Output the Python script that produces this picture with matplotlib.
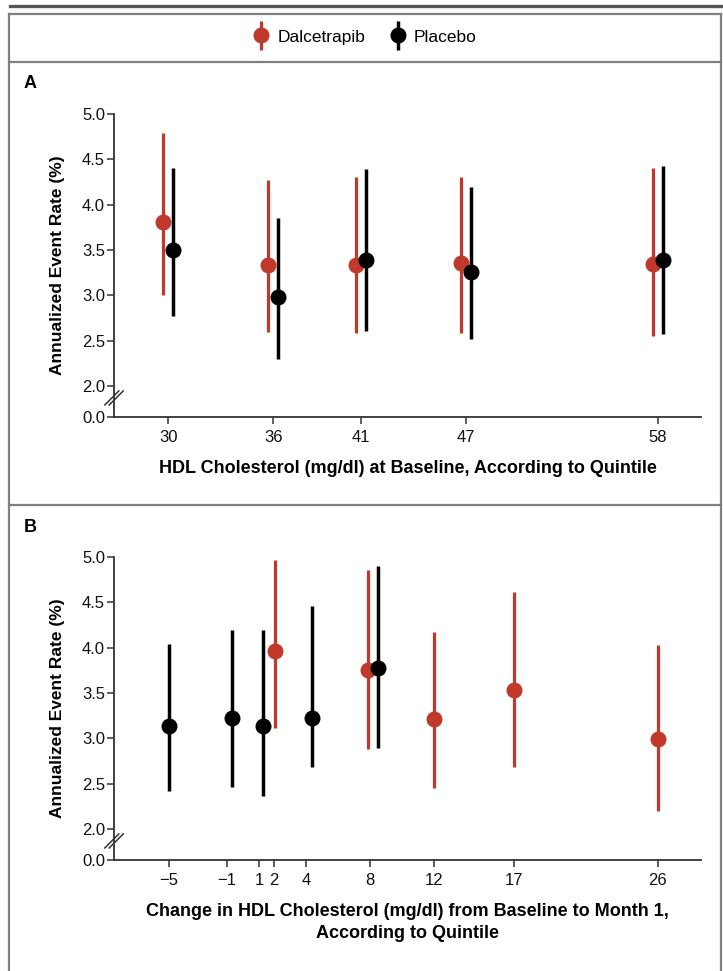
import matplotlib
matplotlib.use("Agg")
import matplotlib.pyplot as plt
from matplotlib.lines import Line2D
from matplotlib.transforms import ScaledTranslation
from matplotlib.legend_handler import HandlerErrorbar
from matplotlib.container import ErrorbarContainer
import numpy as np

# ---------------- data ----------------
# Panel A: HDL at baseline, by quintile
a_quintiles = [30, 36, 41, 47, 58]
a_tick_labels = ["30", "36", "41", "47", "58"]
a_dal_rate = [3.81, 3.34, 3.34, 3.36, 3.35]
a_dal_lo = [3.01, 2.60, 2.59, 2.59, 2.55]
a_dal_hi = [4.79, 4.27, 4.31, 4.31, 4.40]
a_pla_rate = [3.50, 2.98, 3.39, 3.26, 3.39]
a_pla_lo = [2.77, 2.30, 2.61, 2.52, 2.57]
a_pla_hi = [4.40, 3.85, 4.39, 4.19, 4.43]

# Panel B: change in HDL from baseline to month 1, by quintile
b_tick_pos = [-4.6, -0.95, 1.05, 2, 4, 8, 12, 17, 26]
b_tick_labels = ["\u22125", "\u22121", "1", "2", "4", "8", "12", "17", "26"]
b_dal_x = [2.05, 7.85, 12.0, 17.0, 26.0]
b_dal_rate = [3.96, 3.75, 3.21, 3.53, 2.99]
b_dal_lo = [3.12, 2.88, 2.45, 2.68, 2.20]
b_dal_hi = [4.97, 4.86, 4.17, 4.61, 4.03]
b_pla_x = [-4.6, -0.64, 1.3, 4.35, 8.48]
b_pla_rate = [3.14, 3.23, 3.14, 3.22, 3.78]
b_pla_lo = [2.42, 2.47, 2.36, 2.68, 2.90]
b_pla_hi = [4.04, 4.19, 4.20, 4.46, 4.90]

# y axis (broken: 0.0 then 2.0 .. 5.0)
y_break_bottom = 1.66
y_tick_pos = [y_break_bottom, 2.0, 2.5, 3.0, 3.5, 4.0, 4.5, 5.0]
y_tick_labels = ["0.0", "2.0", "2.5", "3.0", "3.5", "4.0", "4.5", "5.0"]

series_labels = ["Dalcetrapib", "Placebo"]
RED = "#C0392B"
BLACK = "#000000"
AXC = "#333333"

plt.rcParams['font.family'] = ['Liberation Sans', 'DejaVu Sans']

W, H = 723, 971
fig = plt.figure(figsize=(W / 100, H / 100), dpi=100)


def px_rect(x0, y0, x1, y1):
    return [x0 / W, 1 - y1 / H, (x1 - x0) / W, (y1 - y0) / H]


axA = fig.add_axes(px_rect(114, 114, 701, 417))
axB = fig.add_axes(px_rect(114, 557, 701, 860))


def style_axis(ax):
    for s in ["top", "right"]:
        ax.spines[s].set_visible(False)
    for s in ["left", "bottom"]:
        ax.spines[s].set_color(AXC)
        ax.spines[s].set_linewidth(1.3)
    ax.set_ylim(y_break_bottom, 5.0)
    ax.set_yticks(y_tick_pos)
    ax.set_yticklabels(y_tick_labels)
    ax.tick_params(axis="y", direction="out", length=5, width=1.1, color=AXC,
                   labelsize=12, pad=1.5, labelcolor="#111111")
    ax.tick_params(axis="x", direction="out", length=5, width=1.1, color=AXC,
                   labelsize=12, pad=4, labelcolor="#111111")
    ax.set_ylabel("Annualized Event Rate (%)", fontsize=12.5, fontweight="bold",
                  labelpad=12)
    # axis break marks
    pos = ax.get_position()
    aw, ah = pos.width * W, pos.height * H
    yb = (1.87 - y_break_bottom) / (5.0 - y_break_bottom)
    for dx in (-2.2, 2.2):
        xs = [(dx - 7) / aw, (dx + 7) / aw]
        ys = [yb - 7 / ah, yb + 7 / ah]
        ax.plot(xs, ys, transform=ax.transAxes, color=AXC, lw=1.1,
                clip_on=False, zorder=5)


def errs(rate, lo, hi):
    r = np.array(rate)
    return np.vstack([r - np.array(lo), np.array(hi) - r])


ms = 10.5
# ---------- Panel A ----------
style_axis(axA)
axA.set_xlim(26.9, 60.46)
axA.set_xticks(a_quintiles)
axA.set_xticklabels(a_tick_labels)
off_l = ScaledTranslation(-5 / 100, 0, fig.dpi_scale_trans)
off_r = ScaledTranslation(5 / 100, 0, fig.dpi_scale_trans)
ebr = axA.errorbar(a_quintiles, a_dal_rate, yerr=errs(a_dal_rate, a_dal_lo, a_dal_hi),
                   fmt="o", color=RED, ms=ms, elinewidth=2.3, capsize=0,
                   transform=axA.transData + off_l, clip_on=False, zorder=3)
ebk = axA.errorbar(a_quintiles, a_pla_rate, yerr=errs(a_pla_rate, a_pla_lo, a_pla_hi),
                   fmt="o", color=BLACK, ms=ms, elinewidth=2.5, capsize=0,
                   transform=axA.transData + off_r, clip_on=False, zorder=4)
axA.set_xlabel("HDL Cholesterol (mg/dl) at Baseline, According to Quintile",
               fontsize=13, fontweight="bold", labelpad=11)

# ---------- Panel B ----------
style_axis(axB)
axB.set_xlim(-8.02, 28.7)
axB.set_xticks(b_tick_pos)
axB.set_xticklabels(b_tick_labels)
axB.errorbar(b_dal_x, b_dal_rate, yerr=errs(b_dal_rate, b_dal_lo, b_dal_hi),
             fmt="o", color=RED, ms=ms, elinewidth=2.3, capsize=0, clip_on=False, zorder=3)
axB.errorbar(b_pla_x, b_pla_rate, yerr=errs(b_pla_rate, b_pla_lo, b_pla_hi),
             fmt="o", color=BLACK, ms=ms, elinewidth=2.5, capsize=0, clip_on=False, zorder=4)
axB.set_xlabel("Change in HDL Cholesterol (mg/dl) from Baseline to Month 1,\nAccording to Quintile",
               fontsize=13, fontweight="bold", labelpad=11, linespacing=1.4)

# panel letters
fig.text(24 / W, 1 - 84 / H, "A", fontsize=13, fontweight="bold", va="center", ha="left")
fig.text(24 / W, 1 - 527 / H, "B", fontsize=13, fontweight="bold", va="center", ha="left")

# legend
leg = fig.legend([ebr, ebk], series_labels, loc="center",
                 bbox_to_anchor=(0.505, 1 - 37 / H), ncol=2, frameon=False,
                 fontsize=12.5, handlelength=0.9, handleheight=1.0,
                 handletextpad=0.5, columnspacing=1.4, numpoints=1,
                 handler_map={ErrorbarContainer: HandlerErrorbar(yerr_size=0.85)})

# frame lines
GR = "#808080"
fig.add_artist(Line2D([10 / W, 1.0], [1 - 6 / H, 1 - 6 / H], color="#555555", lw=2.4))
for yy in (14, 62, 505):
    fig.add_artist(Line2D([9 / W, 721 / W], [1 - yy / H, 1 - yy / H], color=GR, lw=1.6))
for xx in (9, 721):
    fig.add_artist(Line2D([xx / W, xx / W], [0, 1 - 14 / H], color=GR, lw=1.6))

fig.savefig("out.png", dpi=100)
